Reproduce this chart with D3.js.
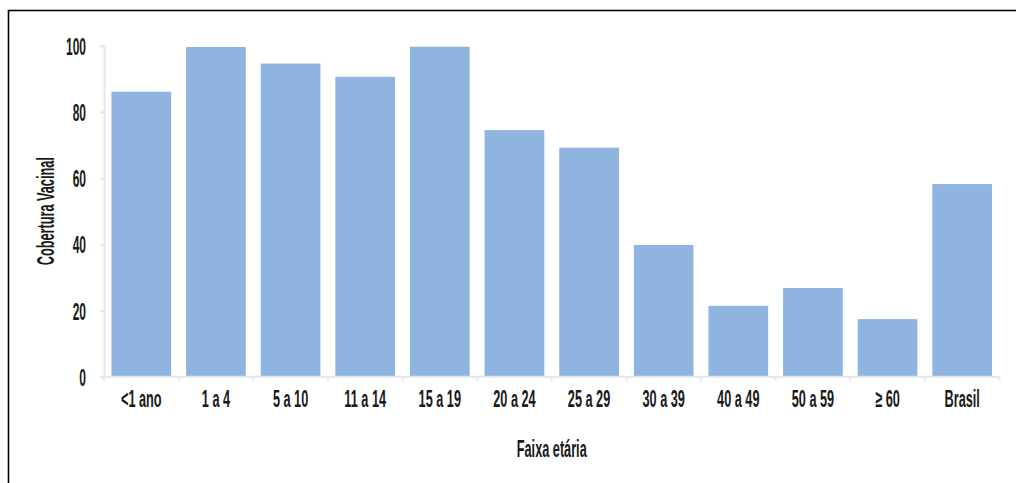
<!DOCTYPE html>
<html lang="pt-BR">
<head>
<meta charset="utf-8">
<script src="https://cdn.jsdelivr.net/npm/d3@7"></script>
<style>
  html, body { margin: 0; padding: 0; background: #fff; }
  svg { display: block; }
  .lbl { font-family: "Liberation Sans", Arial, sans-serif; font-weight: bold; fill: #1a1a1a; }
</style>
</head>
<body>
<svg id="chart" width="1016" height="483"></svg>
<script>
// Cobertura vacinal por faixa etária
const categories = ["<1 ano", "1 a 4", "5 a 10", "11 a 14", "15 a 19", "20 a 24", "25 a 29", "30 a 39", "40 a 49", "50 a 59", "≥ 60", "Brasil"];
const coverage = [86.1, 99.6, 94.6, 90.6, 99.7, 74.5, 69.2, 39.8, 21.4, 26.8, 17.4, 58.2];
const yTicks = [0, 20, 40, 60, 80, 100];
const yTitle = "Cobertura Vacinal";
const xTitle = "Faixa etária";

const W = 1016, H = 483;
const plot = { left: 104, right: 999.5, top: 45.7, bottom: 376.7 };
const barColor = "#8fb4e0";
const axisColor = "#e6e6e6";
const fontSize = 24;
const squeeze = 0.53;     // horizontal compression for the condensed lettering
const squeezeNum = 0.5;   // slightly tighter for the value axis digits

const svg = d3.select("#chart");

// outer frame (open on right and bottom)
svg.append("rect")
  .attr("x", 8.5).attr("y", 10.5)
  .attr("width", W + 50).attr("height", H + 50)
  .attr("fill", "none").attr("stroke", "#000").attr("stroke-width", 1.6);

const x = d3.scaleBand()
  .domain(categories)
  .range([plot.left, plot.right])
  .paddingInner(0.2)
  .paddingOuter(0.1);

const y = d3.scaleLinear()
  .domain([0, 100])
  .range([plot.bottom, plot.top]);

// bars
svg.append("g").selectAll("rect")
  .data(categories.map((c, i) => ({ c, v: coverage[i] })))
  .join("rect")
  .attr("x", d => x(d.c))
  .attr("y", d => y(d.v))
  .attr("width", x.bandwidth())
  .attr("height", d => y(0) - y(d.v))
  .attr("fill", barColor);

// y axis
const yAxis = svg.append("g")
  .attr("transform", `translate(${plot.left},0)`)
  .call(d3.axisLeft(y).tickValues(yTicks).tickSize(4).tickPadding(14).tickFormat(d3.format("d")));
yAxis.select(".domain").attr("stroke", axisColor).attr("stroke-width", 2);
yAxis.selectAll(".tick line").attr("stroke", axisColor).attr("stroke-width", 2);
yAxis.selectAll(".tick text")
  .attr("class", "lbl")
  .attr("font-size", fontSize)
  .attr("dy", "0.36em")
  .each(function () {
    const t = d3.select(this);
    const x0 = +t.attr("x");
    t.attr("x", x0 / squeezeNum).attr("transform", `scale(${squeezeNum},1)`);
  });

// x axis: ticks at category boundaries
const xAxis = svg.append("g").attr("transform", `translate(0,${plot.bottom})`);
const bounds = categories.map(c => x(c) - x.step() * x.paddingInner() / 2);
bounds[0] = plot.left;
bounds.push(plot.right);
xAxis.append("line")
  .attr("x1", plot.left).attr("x2", plot.right)
  .attr("stroke", axisColor).attr("stroke-width", 2);
xAxis.selectAll("line.tk")
  .data(bounds)
  .join("line")
  .attr("class", "tk")
  .attr("x1", d => d).attr("x2", d => d)
  .attr("y1", 0).attr("y2", 4)
  .attr("stroke", axisColor).attr("stroke-width", 2);
xAxis.selectAll("text")
  .data(categories)
  .join("text")
  .attr("class", "lbl")
  .attr("font-size", fontSize)
  .attr("text-anchor", "middle")
  .attr("transform", d => `translate(${x(d) + x.bandwidth() / 2},30) scale(${squeeze},1)`)
  .text(d => d);

// axis titles
svg.append("text")
  .attr("class", "lbl")
  .attr("font-size", fontSize)
  .attr("text-anchor", "middle")
  .attr("transform", `translate(54,${(plot.top + plot.bottom) / 2}) rotate(-90) scale(${squeeze},1)`)
  .text(yTitle);

svg.append("text")
  .attr("class", "lbl")
  .attr("font-size", fontSize)
  .attr("text-anchor", "middle")
  .attr("transform", `translate(${(plot.left + plot.right) / 2},457) scale(${squeeze},1)`)
  .text(xTitle);
</script>
</body>
</html>
